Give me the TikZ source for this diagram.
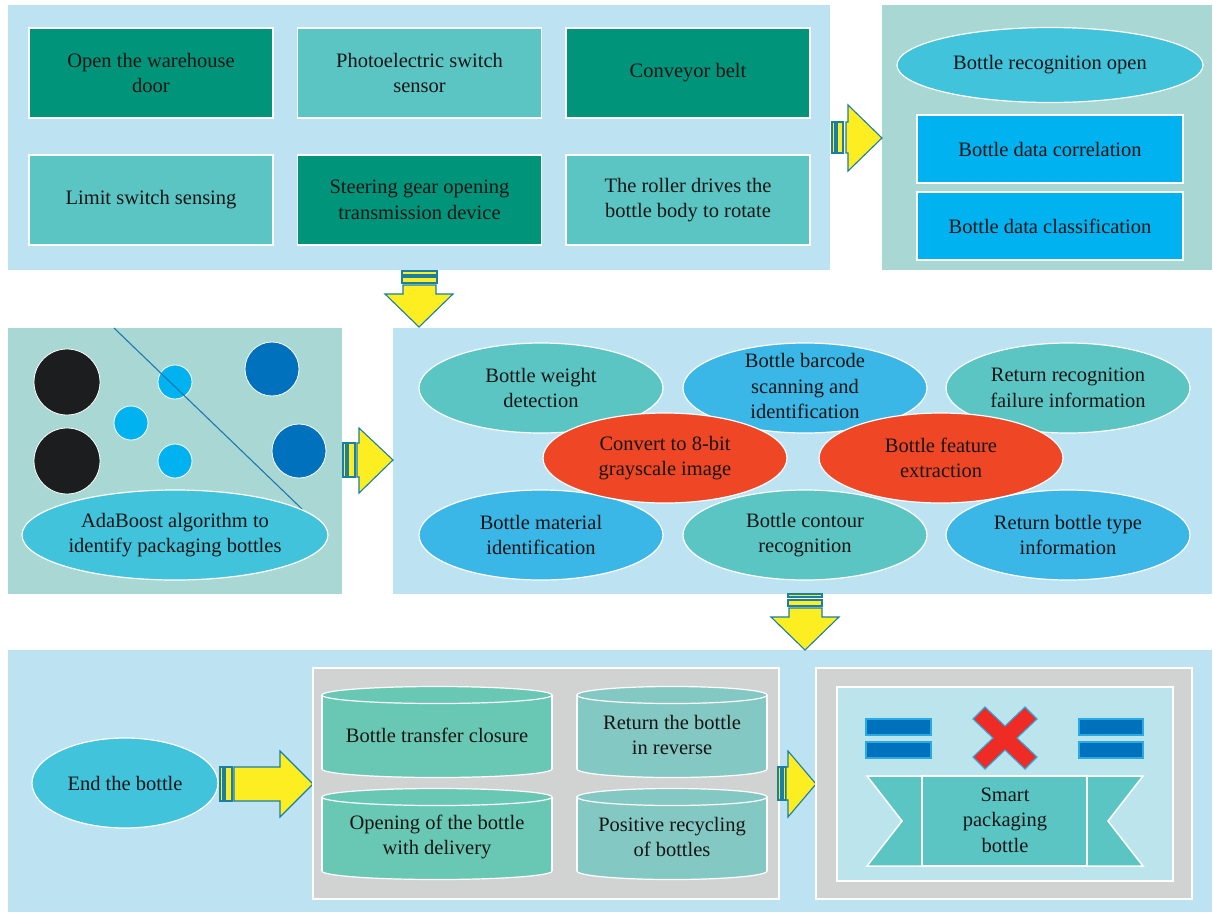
\documentclass[tikz,border=0pt]{standalone}
\usepackage{fontspec}
\setmainfont{Liberation Serif}
\usetikzlibrary{shapes.geometric}
\definecolor{pblue}{HTML}{BDE3F2}
\definecolor{paqua}{HTML}{A9D8D4}
\definecolor{dgreen}{HTML}{00957A}
\definecolor{teal1}{HTML}{5BC5C4}
\definecolor{cyan1}{HTML}{41C3DC}
\definecolor{bblue}{HTML}{00B2EF}
\definecolor{mblue}{HTML}{3AB7E6}
\definecolor{red1}{HTML}{EF4626}
\definecolor{blk}{HTML}{1B1D1F}
\definecolor{dblue}{HTML}{0071BC}
\definecolor{grey1}{HTML}{D1D3D3}
\definecolor{cylA}{HTML}{69C8B3}
\definecolor{cylB}{HTML}{83C8C3}
\definecolor{iblue}{HTML}{BCE4ED}
\definecolor{xred}{HTML}{EE2B25}
\definecolor{yel}{HTML}{FCEE21}
\definecolor{arrowedge}{HTML}{1B7FA5}
\definecolor{txt}{HTML}{151515}
\definecolor{lineblue}{HTML}{1E78AE}
\definecolor{edgeblue}{HTML}{29ABE2}
\newcommand\cylshape[5]{%
  \pgfmathsetmacro\cxm{(#1+#2)/2}\pgfmathsetmacro\crx{(#2-#1)/2}%
  \filldraw[fill=#5, draw=white, line width=1.2pt] (\cxm,#4) ellipse[x radius=\crx, y radius=8.5];
  \fill[#5] (#1,#3) rectangle (#2,#4);
  \draw[white, line width=1.2pt] (#1,#3) -- (#1,#4) (#2,#3) -- (#2,#4);
  \filldraw[fill=#5, draw=white, line width=1.2pt] (\cxm,#3) ellipse[x radius=\crx, y radius=8.5];
}
\begin{document}
\begin{tikzpicture}[x=1pt,y=-1pt,
  lab/.style={align=center, text=txt, font=\fontsize{20.5}{25.5}\selectfont, inner sep=0pt},
  sqbox/.style={rectangle, draw=white, line width=1.3pt, minimum width=244, minimum height=90, inner sep=0pt},
  oval/.style={ellipse, draw=white, line width=1.2pt, inner sep=0pt},
  midoval/.style={oval, minimum width=244, minimum height=90},
  yarrow/.style={fill=yel, draw=arrowedge, line width=1.1pt, line join=miter},
  disc/.style={circle, draw=white, line width=0.8pt, inner sep=0pt}
]
\useasboundingbox (0,0) rectangle (1213,914);
\fill[white] (0,0) rectangle (1213,914);

% panels
\fill[pblue] (8,5) rectangle (830,270);
\fill[paqua] (882,5) rectangle (1212,270);
\fill[paqua] (8,328) rectangle (342,594);
\fill[pblue] (393,328) rectangle (1212,594);
\fill[pblue] (8,650) rectangle (1212,912);

% top-left boxes
\node[sqbox, fill=dgreen] (b1) at (151,73) {};
\node[lab] (b1t) at (b1) {Open the warehouse\\door};
\node[sqbox, fill=teal1] (b2) at (419.5,73) {};
\node[lab] (b2t) at (b2) {Photoelectric switch\\sensor};
\node[sqbox, fill=dgreen] (b3) at (688,73) {};
\node[lab] (b3t) at (b3) {Conveyor belt};
\node[sqbox, fill=teal1] (b4) at (151,200) {};
\node[lab] (b4t) at (b4) {Limit switch sensing};
\node[sqbox, fill=dgreen] (b5) at (419.5,200) {};
\node[lab] (b5t) at (b5) {Steering gear opening\\transmission device};
\node[sqbox, fill=teal1] (b6) at (688,200) {};
\node[lab] (b6t) at (b6) {The roller drives the\\bottle body to rotate};

% top-right
\node[oval, fill=cyan1, minimum width=306, minimum height=75] (r1) at (1050,65) {};
\node[lab] (r1t) at (r1) {Bottle recognition open};
\node[sqbox, fill=bblue, minimum width=266, minimum height=68] (r2) at (1050,149) {};
\node[lab] (r2t) at (r2) {Bottle data correlation};
\node[sqbox, fill=bblue, minimum width=266, minimum height=68] (r3) at (1050,226) {};
\node[lab] (r3t) at (r3) {Bottle data classification};

% arrow top -> right
\filldraw[yarrow] (832,122) rectangle (835,153);
\filldraw[yarrow] (837,122) rectangle (843,153);
\filldraw[yarrow] (846,122) -- (848,122) -- (848,105) -- (882,138) -- (848,171) -- (848,153) -- (846,153) -- cycle;

% arrow down 1
\filldraw[yarrow] (402,271) rectangle (437,275);
\filldraw[yarrow] (402,277) rectangle (437,283);
\filldraw[yarrow] (403,285) -- (436,285) -- (436,294) -- (453,294) -- (419,327) -- (385,294) -- (403,294) -- cycle;

% middle-left
\node[disc, fill=blk, minimum size=66] (c1) at (67,382) {};
\node[disc, fill=blk, minimum size=66] (c2) at (67,461) {};
\node[disc, fill=bblue, minimum size=34] (c3) at (175,382) {};
\node[disc, fill=bblue, minimum size=34] (c4) at (131,423) {};
\node[disc, fill=bblue, minimum size=34] (c5) at (175,461) {};
\node[disc, fill=dblue, minimum size=54] (c6) at (272,369) {};
\node[disc, fill=dblue, minimum size=54] (c7) at (299,451) {};
\coordinate (ls) at (114,328);
\coordinate (le) at (302,509);
\draw[lineblue, line width=1.1pt] (ls) -- (le);
\node[oval, fill=cyan1, minimum width=306, minimum height=90] (ada) at (175,535) {};
\node[lab] (adat) at (ada) {AdaBoost algorithm to\\identify packaging bottles};

% arrow mid
\filldraw[yarrow] (343,443) rectangle (346,477);
\filldraw[yarrow] (348,443) rectangle (355,477);
\filldraw[yarrow] (357,443) -- (359,443) -- (359,428) -- (393,460) -- (359,493) -- (359,477) -- (357,477) -- cycle;

% middle-right ellipses
\node[midoval, fill=teal1] (m1) at (541,388) {};
\node[midoval, fill=mblue] (m2) at (805,388) {};
\node[midoval, fill=teal1] (m3) at (1068,388) {};
\node[midoval, fill=mblue] (m7) at (541,535) {};
\node[midoval, fill=teal1] (m8) at (805,535) {};
\node[midoval, fill=mblue] (m9) at (1068,535) {};
\node[midoval, fill=red1] (m4) at (665,458) {};
\node[midoval, fill=red1] (m5) at (941,458) {};
\node[lab] (m1t) at (m1) {Bottle weight\\detection};
\node[lab] (m2t) at (805,386) {Bottle barcode\\scanning and\\identification};
\node[lab] (m3t) at (m3) {Return recognition\\failure information};
\node[lab] (m4t) at (m4) {Convert to 8-bit\\grayscale image};
\node[lab] (m5t) at (m5) {Bottle feature\\extraction};
\node[lab] (m7t) at (m7) {Bottle material\\identification};
\node[lab] (m8t) at (m8) {Bottle contour\\recognition};
\node[lab] (m9t) at (m9) {Return bottle type\\information};

% arrow down 2
\filldraw[yarrow] (788,594) rectangle (822,597);
\filldraw[yarrow] (788,600) rectangle (822,606);
\filldraw[yarrow] (789,608) -- (822,608) -- (822,617) -- (839,617) -- (805,650) -- (771,617) -- (789,617) -- cycle;

% bottom
\node[oval, fill=cyan1, minimum width=186, minimum height=90] (e1) at (125,783) {};
\node[lab] (e1t) at (e1) {End the bottle};

\filldraw[yarrow] (220,767) rectangle (223,801);
\filldraw[yarrow] (225,767) rectangle (232,801);
\filldraw[yarrow] (234,767) -- (280,767) -- (280,751) -- (313,784) -- (280,817) -- (280,801) -- (234,801) -- cycle;

\filldraw[fill=grey1, draw=white, line width=1.2pt] (313,668) rectangle (779,899);
\cylshape{322}{552}{695}{769}{cylA}
\cylshape{322}{552}{797}{871}{cylA}
\cylshape{577}{767}{695}{769}{cylB}
\cylshape{577}{767}{797}{871}{cylB}
\node[lab] (k1) at (437,735) {Bottle transfer closure};
\node[lab] (k2) at (437,837) {Opening of the bottle\\with delivery};
\node[lab] (k3) at (672,735) {Return the bottle\\in reverse};
\node[lab] (k4) at (672,837) {Positive recycling\\of bottles};

\filldraw[yarrow] (778,767) rectangle (781,800);
\filldraw[yarrow] (783,767) rectangle (786,800);
\filldraw[yarrow] (786,767) -- (788,767) -- (788,751) -- (816,784) -- (788,817) -- (788,800) -- (786,800) -- cycle;

\filldraw[fill=grey1, draw=white, line width=1.2pt] (816,668) rectangle (1192,899);
\filldraw[fill=iblue, draw=white, line width=1.5pt] (837,687) rectangle (1173,881);
\filldraw[fill=dblue, draw=edgeblue, line width=1.1pt] (866,719) rectangle (931,735);
\filldraw[fill=dblue, draw=edgeblue, line width=1.1pt] (866,742) rectangle (931,758);
\filldraw[fill=dblue, draw=edgeblue, line width=1.1pt] (1079,719) rectangle (1143,735);
\filldraw[fill=dblue, draw=edgeblue, line width=1.1pt] (1079,742) rectangle (1143,758);
\begin{scope}[shift={(1005,738)}]
\filldraw[fill=xred, draw=edgeblue, line width=1.1pt, line join=miter]
  (-20,-31) -- (0,-12) -- (20,-31) -- (32,-19) -- (12,0) -- (32,19) -- (20,31) -- (0,12)
  -- (-20,31) -- (-32,19) -- (-12,0) -- (-32,-19) -- cycle;
\end{scope}
\filldraw[fill=teal1, draw=white, line width=1.5pt] (867,776) -- (922,776) -- (922,866) -- (867,866) -- (902,821) -- cycle;
\filldraw[fill=teal1, draw=white, line width=1.5pt] (1087,776) -- (1143,776) -- (1108,821) -- (1143,866) -- (1087,866) -- cycle;
\filldraw[fill=teal1, draw=white, line width=1.5pt] (922,776) rectangle (1087,866);
\node[lab] (s1) at (1005,820) {Smart\\packaging\\bottle};
\end{tikzpicture}
\end{document}
